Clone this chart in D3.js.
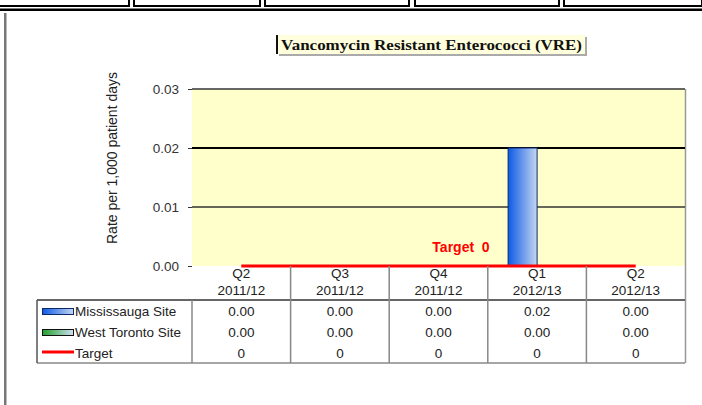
<!DOCTYPE html>
<html>
<head>
<meta charset="utf-8">
<script src="https://d3js.org/d3.v7.min.js"></script>
<style>
  body { margin: 0; background: #fff; }
</style>
</head>
<body>
<div id="mainer"></div>
<script>
// data
let quarters = ["Q2", "Q3", "Q4", "Q1", "Q2"];
let years = ["2011/12", "2011/12", "2011/12", "2012/13", "2012/13"];
let mississauga = [0, 0, 0, 0.02, 0];
let westToronto = [0, 0, 0, 0, 0];
let target = [0, 0, 0, 0, 0];
let yTicks = [0, 0.01, 0.02, 0.03];
let seriesNames = ["Mississauga Site", "West Toronto Site", "Target"];

let width = 702, height = 405;
let fs = 13.5;
let svg = d3.select("#mainer").append("svg")
  .attr("width", width).attr("height", height)
  .attr("font-family", "'Liberation Sans', Arial, sans-serif");

let defs = svg.append("defs");
let gBlue = defs.append("linearGradient").attr("id", "gBlue");
gBlue.append("stop").attr("offset", "0%").attr("stop-color", "#0d5ae6");
gBlue.append("stop").attr("offset", "100%").attr("stop-color", "#c4d6f2");
let gGreen = defs.append("linearGradient").attr("id", "gGreen");
gGreen.append("stop").attr("offset", "0%").attr("stop-color", "#1fa02a");
gGreen.append("stop").attr("offset", "100%").attr("stop-color", "#cfe0f4");

// page frame bits (top boxes + left rule)
let boxes = [[-2, 130], [133, 261], [264, 410], [414, 560], [563, 703]];
boxes.forEach(b => {
  svg.append("rect").attr("x", b[0] + 1).attr("y", -10).attr("width", b[1] - b[0] - 2).attr("height", 16)
    .attr("fill", "none").attr("stroke", "#000").attr("stroke-width", 2);
});
svg.append("rect").attr("x", 0).attr("y", 8.5).attr("width", width).attr("height", 2.5).attr("fill", "#000");
svg.append("rect").attr("x", 4).attr("y", 13).attr("width", 2.5).attr("height", 392).attr("fill", "#777");

// scales
let pLeft = 192, pRight = 685, pTop = 89, pBottom = 266;
let x0 = d3.scaleBand().domain(d3.range(quarters.length)).range([pLeft, pRight]);
let x1 = d3.scaleBand().domain([0, 1]).range([0, 58]);
let y = d3.scaleLinear().domain([0, 0.03]).range([pBottom, pTop]);

// plot area
svg.append("rect").attr("x", pLeft).attr("y", pTop).attr("width", pRight - pLeft).attr("height", pBottom - pTop)
  .attr("fill", "#ffffcc");
svg.append("line").attr("x1", pRight + 0.5).attr("x2", pRight + 0.5).attr("y1", pTop).attr("y2", 363)
  .attr("stroke", "#999").attr("stroke-width", 1.5);

// grid
svg.append("g").selectAll("line").data(yTicks.filter(d => d > 0)).enter().append("line")
  .attr("x1", pLeft).attr("x2", pRight)
  .attr("y1", d => y(d)).attr("y2", d => y(d))
  .attr("stroke", d => d === 0.02 ? "#000" : "#333")
  .attr("stroke-width", d => d === 0.02 ? 2 : 1.3);

// y axis
let yAxis = d3.axisLeft(y).tickValues(yTicks).tickFormat(d3.format(".2f")).tickSize(4).tickPadding(9);
let ya = svg.append("g").attr("transform", `translate(${pLeft},0)`).call(yAxis);
ya.select(".domain").remove();
ya.selectAll("line").attr("stroke", "#333");
ya.selectAll("text").attr("font-size", fs).attr("fill", "#333")
  .attr("font-family", "'Liberation Sans', Arial, sans-serif");

svg.append("text").attr("transform", "translate(117,158) rotate(-90)")
  .attr("text-anchor", "middle").attr("font-size", 14).attr("fill", "#222")
  .text("Rate per 1,000 patient days");

// bars
let series = [mississauga, westToronto];
let fills = ["url(#gBlue)", "url(#gGreen)"];
series.forEach((vals, s) => {
  let pts = vals.map((v, i) => ({ v: v, i: i })).filter(d => d.v > 0);
  svg.append("g").selectAll("rect").data(pts).enter().append("rect")
    .attr("x", d => x0(d.i) + x0.bandwidth() / 2 - 29 + x1(s))
    .attr("y", d => y(d.v))
    .attr("width", x1.bandwidth())
    .attr("height", d => pBottom - y(d.v))
    .attr("fill", fills[s])
    .attr("stroke", "#0b2a66").attr("stroke-width", 1);
});

// target line
let line = d3.line()
  .x((d, i) => x0(i) + x0.bandwidth() / 2)
  .y(d => y(d));
svg.append("path").attr("d", line(target))
  .attr("fill", "none").attr("stroke", "#ff0000").attr("stroke-width", 3);

svg.append("text").attr("x", 461).attr("y", 252).attr("text-anchor", "middle")
  .attr("font-size", 14).attr("font-weight", "bold").attr("fill", "#ff0000")
  .attr("xml:space", "preserve")
  .text("Target  " + target[target.length - 1]);

// category labels
let cat = svg.append("g");
quarters.forEach((q, i) => {
  let cx = x0(i) + x0.bandwidth() / 2;
  cat.append("text").attr("x", cx).attr("y", 278).attr("text-anchor", "middle")
    .attr("font-size", fs).attr("fill", "#222").text(q);
  cat.append("text").attr("x", cx).attr("y", 295).attr("text-anchor", "middle")
    .attr("font-size", fs).attr("fill", "#222").text(years[i]);
});

// data table
let tLeft = 37, tTop = 300, rowH = 21, tBottom = tTop + rowH * 3;
svg.append("line").attr("x1", tLeft).attr("x2", pRight).attr("y1", tTop).attr("y2", tTop)
  .attr("stroke", "#333").attr("stroke-width", 1.5);
svg.append("line").attr("x1", tLeft).attr("x2", pRight).attr("y1", tBottom).attr("y2", tBottom)
  .attr("stroke", "#888").attr("stroke-width", 1.5);
svg.append("line").attr("x1", tLeft).attr("x2", tLeft).attr("y1", tTop).attr("y2", tBottom)
  .attr("stroke", "#555").attr("stroke-width", 1.5);
svg.append("g").selectAll("line").data(d3.range(0, quarters.length)).enter().append("line")
  .attr("x1", i => x0(i)).attr("x2", i => x0(i))
  .attr("y1", i => i === 0 ? tTop : pBottom).attr("y2", tBottom)
  .attr("stroke", "#888").attr("stroke-width", 1.5);

let tableRows = [mississauga.map(d3.format(".2f")), westToronto.map(d3.format(".2f")), target.map(String)];
tableRows.forEach((row, r) => {
  let cy = tTop + rowH * r + 16;
  row.forEach((v, i) => {
    svg.append("text").attr("x", x0(i) + x0.bandwidth() / 2).attr("y", cy)
      .attr("text-anchor", "middle").attr("font-size", fs).attr("fill", "#222").text(v);
  });
  svg.append("text").attr("x", 75).attr("y", cy).attr("font-size", fs).attr("fill", "#222")
    .text(seriesNames[r]);
});
// legend keys
svg.append("rect").attr("x", 42.5).attr("y", 308.5).attr("width", 31).attr("height", 6)
  .attr("fill", "url(#gBlue)").attr("stroke", "#0b2a66");
svg.append("rect").attr("x", 42.5).attr("y", 329.5).attr("width", 31).attr("height", 6)
  .attr("fill", "url(#gGreen)").attr("stroke", "#111");
svg.append("line").attr("x1", 42).attr("x2", 74).attr("y1", 352).attr("y2", 352)
  .attr("stroke", "#ff0000").attr("stroke-width", 3);

// title
let tg = svg.append("g");
tg.append("rect").attr("x", 279).attr("y", 37).attr("width", 308).attr("height", 19).attr("fill", "#aaa");
tg.append("rect").attr("x", 277).attr("y", 35).attr("width", 308).attr("height", 19).attr("fill", "#ffffdd");
tg.append("rect").attr("x", 276).attr("y", 35).attr("width", 2).attr("height", 19).attr("fill", "#111");
tg.append("text").attr("x", 281).attr("y", 50)
  .attr("font-family", "'Liberation Serif', 'Times New Roman', serif")
  .attr("font-weight", "bold").attr("font-size", 15).attr("fill", "#111")
  .attr("textLength", 301).attr("lengthAdjust", "spacingAndGlyphs")
  .text("Vancomycin Resistant Enterococci (VRE)");
</script>
</body>
</html>
